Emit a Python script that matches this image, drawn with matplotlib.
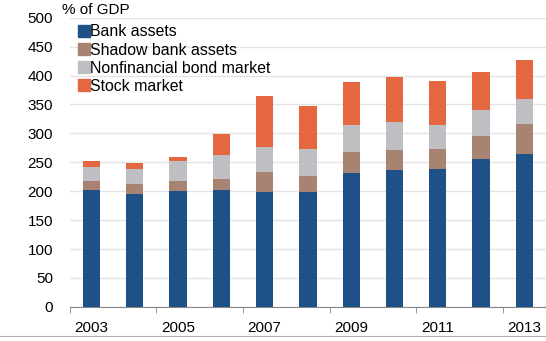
import numpy as np
import matplotlib.pyplot as plt
from matplotlib.lines import Line2D

plt.rcParams['font.family'] = ['Liberation Sans', 'DejaVu Sans']

years = [2003, 2004, 2005, 2006, 2007, 2008, 2009, 2010, 2011, 2012, 2013]
bank = [202, 196, 200, 202, 198, 199, 232, 236, 238, 256, 264]
shadow = [16, 16, 18, 19, 36, 28, 35, 36, 35, 40, 52]
bonds = [24, 27, 35, 42, 42, 46, 48, 48, 42, 45, 44]
stocks = [10, 9, 7, 36, 89, 74, 74, 78, 76, 66, 67]

labels = ['Bank assets', 'Shadow bank assets', 'Nonfinancial bond market', 'Stock market']
colors = ['#1f5189', '#a88372', '#bfbfc3', '#e5673f']

fig = plt.figure(figsize=(5.46, 3.41), dpi=100)
ax = fig.add_axes([0.128, 0.1, 0.872, 0.848])

bottom = np.zeros(len(years))
for vals, lab, col in zip([bank, shadow, bonds, stocks], labels, colors):
    ax.bar(years, vals, width=0.4, bottom=bottom, color=col, label=lab, zorder=3)
    bottom += np.array(vals)

ax.set_ylim(0, 500)
ax.set_xlim(2002.5, 2013.5)
ax.set_yticks(range(0, 501, 50))
ax.yaxis.grid(True, color='#e3e3e3', linewidth=1, zorder=0)
ax.tick_params(axis='y', length=0, labelsize=11, pad=12)

ax.set_xticks([2003, 2005, 2007, 2009, 2011, 2013])
ax.set_xticks(np.arange(2002.5, 2013.5, 2), minor=True)
ax.tick_params(axis='x', which='major', length=0, labelsize=11, pad=10)
ax.tick_params(axis='x', which='minor', length=4, color='#888888', direction='out')

for s in ['top', 'right', 'left']:
    ax.spines[s].set_visible(False)
ax.spines['bottom'].set_color('#888888')

fig.text(0.113, 0.99, '% of GDP', fontsize=11, va='top', ha='left')

handles = [Line2D([], [], marker='s', linestyle='none', markersize=8,
                  markerfacecolor=c, markeredgecolor=c) for c in colors]
ax.legend(handles, labels, loc='upper left', bbox_to_anchor=(0.0, 1.01),
          frameon=False, fontsize=11.4, handlelength=0.6, handletextpad=0.1,
          labelspacing=0.2, borderaxespad=0.2)

fig.add_artist(Line2D([0.0, 1.0], [0.015, 0.015], color='#b0b0b0', linewidth=0.8))

fig.savefig('out.png', dpi=100)
